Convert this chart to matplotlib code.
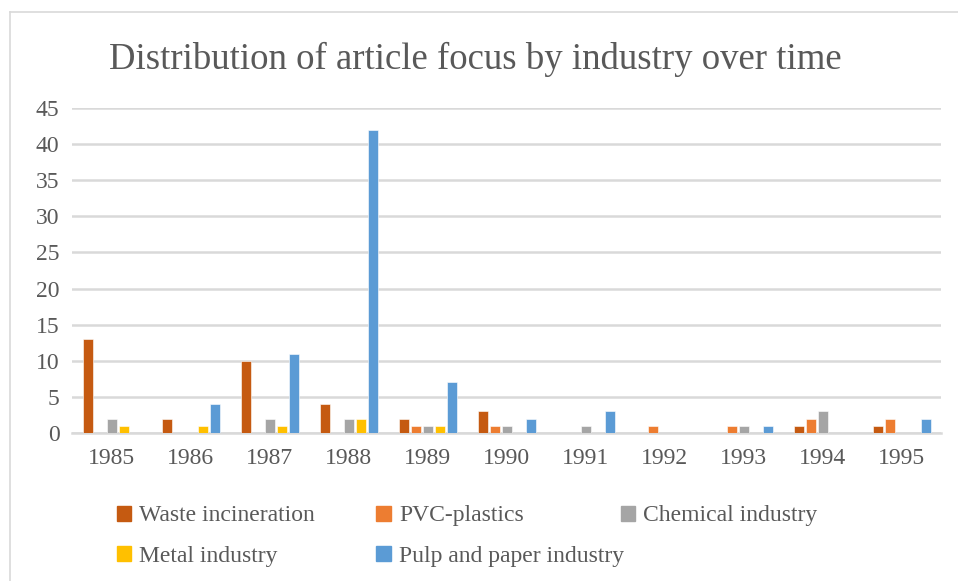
import numpy as np
import matplotlib.pyplot as plt
from matplotlib.lines import Line2D
from matplotlib.patches import Patch

years = ['1985', '1986', '1987', '1988', '1989', '1990',
         '1991', '1992', '1993', '1994', '1995']
series = ['Waste incineration', 'PVC-plastics', 'Chemical industry',
          'Metal industry', 'Pulp and paper industry']
waste = [13, 2, 10, 4, 2, 3, 0, 0, 0, 1, 1]
pvc = [0, 0, 0, 0, 1, 1, 0, 1, 1, 2, 2]
chemical = [2, 0, 2, 2, 1, 1, 1, 0, 1, 3, 0]
metal = [1, 1, 1, 2, 1, 0, 0, 0, 0, 0, 0]
pulp = [0, 4, 11, 42, 7, 2, 3, 0, 1, 0, 2]
colors = ['#C55A11', '#ED7D31', '#A5A5A5', '#FFC000', '#5B9BD5']

plt.rcParams['font.family'] = ['Liberation Serif', 'DejaVu Serif']
txt = '#595959'
grid = '#D9D9D9'

fig = plt.figure(figsize=(9.58, 5.81), dpi=100)
ax = fig.add_axes([0.0752, 0.2547, 0.9071, 0.5594])

x = np.arange(len(years))
step = 0.152
width = 0.127
data = [waste, pvc, chemical, metal, pulp]
for i, vals in enumerate(data):
    ax.bar(x + (i - 2) * step, vals, width, color=colors[i],
           edgecolor='white', linewidth=0.4, zorder=3)

ax.set_xlim(-0.5, len(years) - 0.5)
ax.set_ylim(0, 45)
ax.set_yticks(range(0, 46, 5))
ax.set_xticks(x)
ax.set_xticklabels(years)
ax.tick_params(length=0, labelsize=17, colors=txt)
ax.tick_params(axis='y', pad=9)
ax.tick_params(axis='x', pad=11)
ax.yaxis.grid(True, color=grid, linewidth=1.8, zorder=0)
for s in ['top', 'right', 'left']:
    ax.spines[s].set_visible(False)
ax.spines['bottom'].set_color(grid)
ax.spines['bottom'].set_linewidth(1.8)

fig.text(0.496, 0.898, 'Distribution of article focus by industry over time',
         ha='center', va='center', fontsize=26.5, color=txt)

# legend laid out like the Excel one: 3 columns, 2 rows
col_x = [0.122, 0.393, 0.648]
row_y = [0.112, 0.042]
for i, name in enumerate(series):
    r, c = divmod(i, 3)
    leg = fig.legend(handles=[Patch(color=colors[i])], labels=[name],
                     loc='center left', bbox_to_anchor=(col_x[c], row_y[r]),
                     frameon=False, fontsize=17, labelcolor=txt,
                     handlelength=0.6, handleheight=0.6, handletextpad=0.35,
                     borderpad=0, borderaxespad=0)

# chart frame (left and top edges visible)
fig.add_artist(Line2D([0.0105, 0.0105], [0, 0.979], color=grid, linewidth=1.2))
fig.add_artist(Line2D([0.0105, 1.0], [0.979, 0.979], color=grid, linewidth=1.2))

fig.savefig('out.png', dpi=100)
